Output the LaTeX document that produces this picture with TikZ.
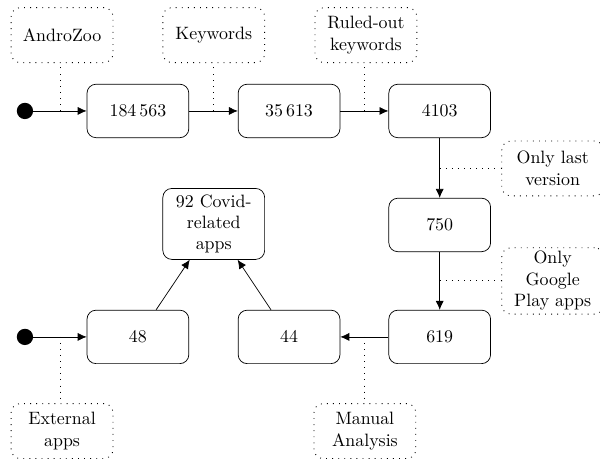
\documentclass[tikz,border=0pt]{standalone}
\usepackage{amsmath}
\usepackage{tikz}
\usetikzlibrary{arrows.meta}

\begin{document}
\begin{tikzpicture}[
    state/.style={draw,rounded corners=5pt,minimum width=2cm,minimum height=1.05cm,align=center,text width=1.7cm},
    link/.style={line width=0.5pt,dash pattern=on 0.5pt off 2.9pt},
    note/.style={draw,link,rounded corners=5pt,minimum width=2cm,minimum height=1.08cm,align=center,text width=1.7cm,inner sep=2pt},
    init/.style={circle,fill=black,inner sep=0pt,minimum size=0.32cm},
    flow/.style={-{Latex[length=5pt,width=4.5pt]}}
    ]
                \useasboundingbox (0,0) rectangle (11.79,-9.08);
                % start points
                \node[init] (s1) at (0.49,-2.18) {};
                \node[init] (s2) at (0.49,-6.62) {};
                % filtering steps
                \node[state] (all) at (2.71,-2.18) {184\,563};
                \node[state] (kw) at (5.68,-2.18) {35\,613};
                \node[state] (ruled) at (8.64,-2.18) {4103};
                \node[state] (last) at (8.64,-4.42) {750};
                \node[state] (play) at (8.64,-6.62) {619};
                \node[state] (manual) at (5.68,-6.62) {44};
                \node[state] (ext) at (2.71,-6.62) {48};
                \node[state] (covid) at (4.20,-4.40) {92 Covid-related apps};
                % notes
                \node[note] (nzoo) at (1.22,-0.69) {AndroZoo};
                \node[note] (nkw) at (4.20,-0.69) {Keywords};
                \node[note] (nruled) at (7.19,-0.69) {Ruled-out keywords};
                \node[note] (nlast) at (10.86,-3.31) {Only last version};
                \node[note] (nplay) at (10.86,-5.52) {Only Google Play apps};
                \node[note] (next) at (1.22,-8.47) {External apps};
                \node[note] (nmanual) at (7.17,-8.47) {Manual Analysis};
                % arrows
                \draw[flow] (s1) -- coordinate[midway] (m1) (all);
                \draw[flow] (all) -- coordinate[midway] (m2) (kw);
                \draw[flow] (kw) -- coordinate[midway] (m3) (ruled);
                \draw[flow] (ruled) -- coordinate[midway] (m4) (last);
                \draw[flow] (last) -- coordinate[midway] (m5) (play);
                \draw[flow] (play) -- coordinate[midway] (m6) (manual);
                \draw[flow] (s2) -- coordinate[midway] (m7) (ext);
                \draw[flow] (ext) -- (covid);
                \draw[flow] (manual) -- (covid);
                % note links
                \draw[link] (m1) -- (m1 |- nzoo.south);
                \draw[link] (m2) -- (m2 |- nkw.south);
                \draw[link] (m3) -- (m3 |- nruled.south);
                \draw[link] (m4) -- (m4 -| nlast.west);
                \draw[link] (m5) -- (m5 -| nplay.west);
                \draw[link] (m7) -- (m7 |- next.north);
                \draw[link] (m6) -- (m6 |- nmanual.north);
\end{tikzpicture}
\end{document}
